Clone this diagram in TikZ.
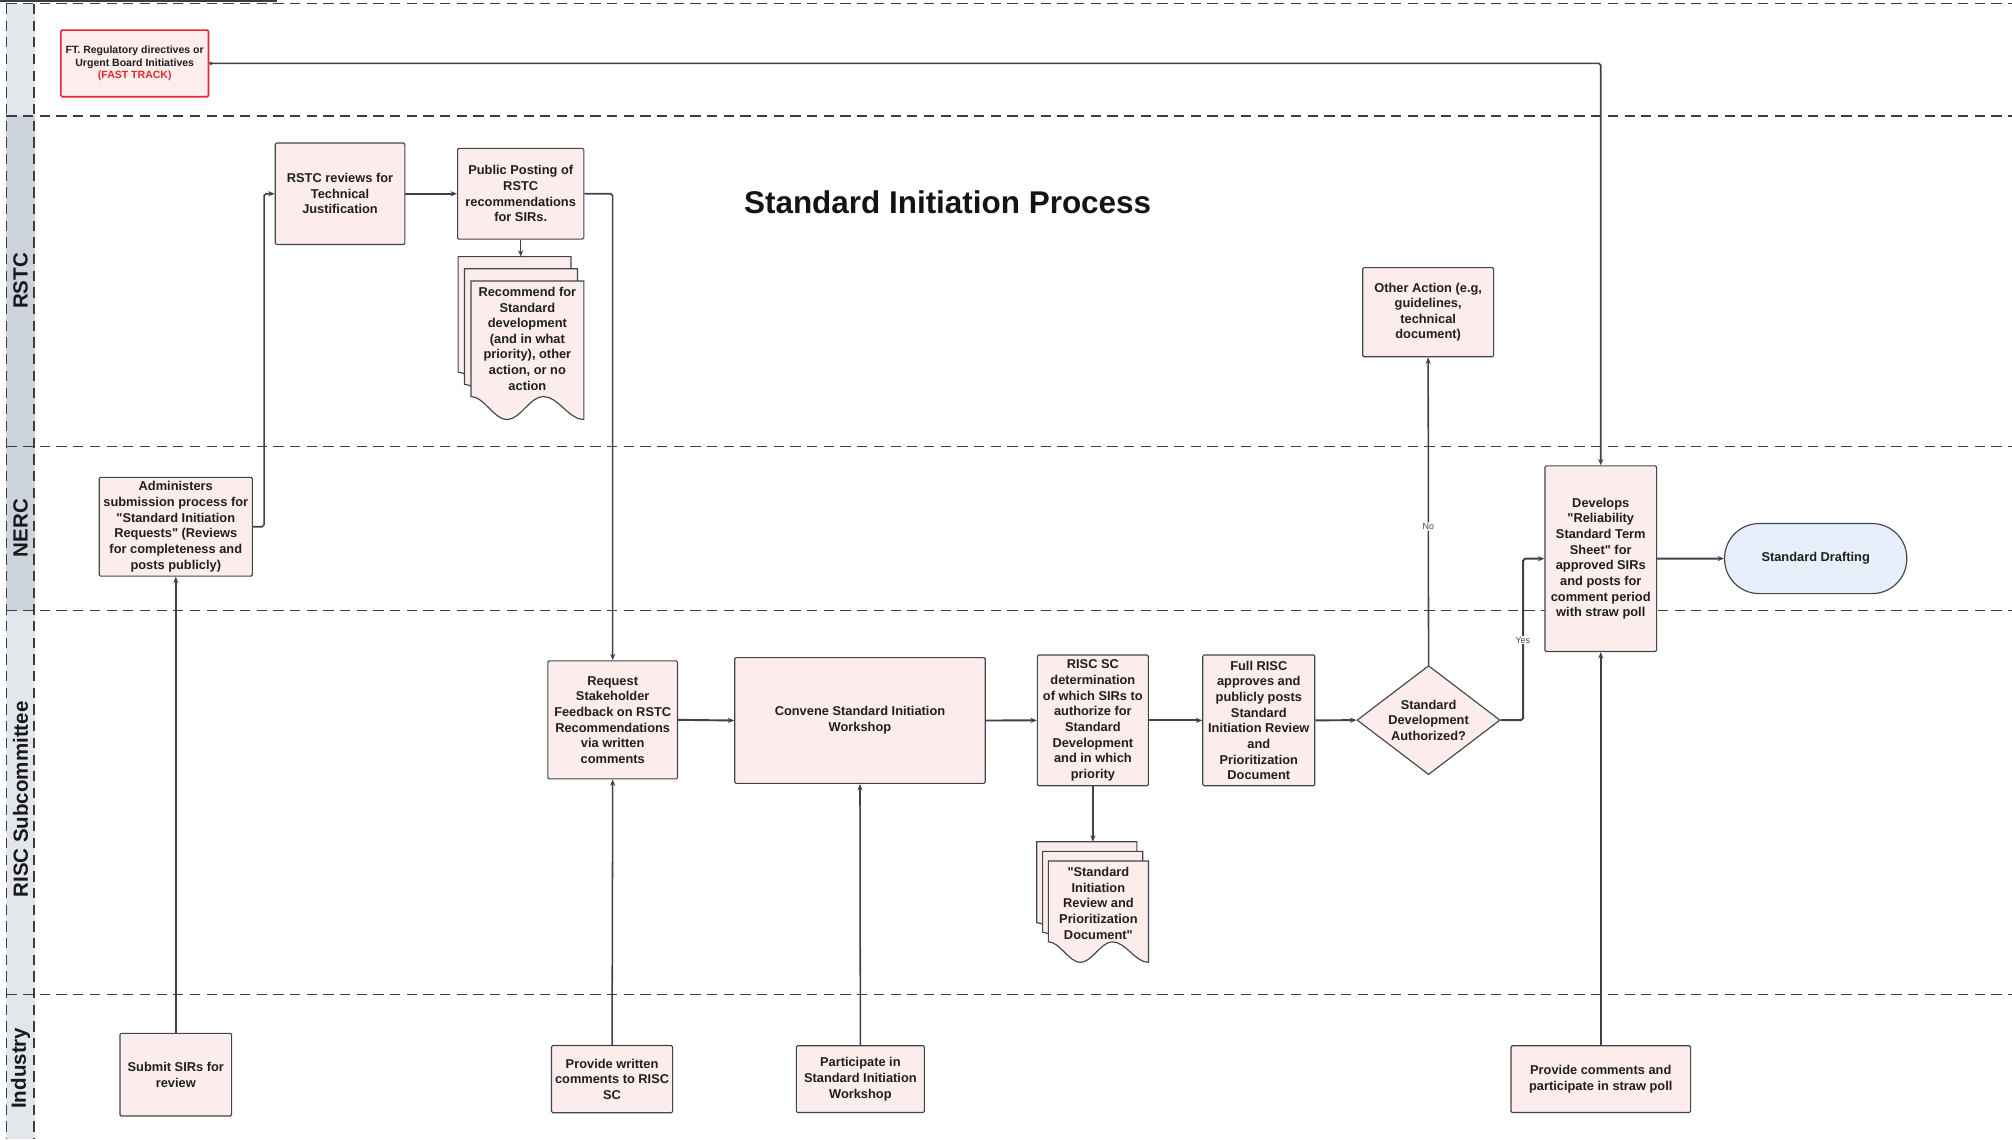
\documentclass[tikz,border=0pt]{standalone}
\usepackage{fontspec}
\setmainfont{Liberation Sans}[Ligatures=TeXOff]
\usetikzlibrary{arrows.meta,shapes.geometric}
\definecolor{boxfill}{HTML}{FCEDEC}
\definecolor{boxline}{HTML}{42464C}
\definecolor{connc}{HTML}{3E434A}
\definecolor{ftred}{HTML}{E5282D}
\definecolor{ftfill}{HTML}{FDEDED}
\definecolor{draftfill}{HTML}{E7F0FA}
\definecolor{lanelight}{HTML}{E3E6EA}
\definecolor{lanedark}{HTML}{CDD3DC}
\definecolor{sepc}{HTML}{3A3D42}
\newcommand{\dq}{\char34\relax}
\newcommand{\mypage}[5]{\draw[pagesty] (#1,#2) -- ++(#3,0) -- ++(0,#4)
  .. controls +({-0.13*#3},0) and +({0.13*#3},0) .. ++({-0.36*#3},{-#5})
  .. controls +({-0.115*#3},0) and +({0.115*#3},0) .. ++({-0.32*#3},{#5})
  .. controls +({-0.115*#3},0) and +({0.115*#3},0) .. ++({-0.32*#3},{-#5}) -- cycle;}
\begin{document}
\begin{tikzpicture}[x=1pt,y=-1pt,
  proc/.style={draw=boxline, fill=boxfill, line width=0.9pt, rounded corners=1pt, align=center, inner sep=0pt,
    font=\fontsize{10}{12.2}\selectfont\bfseries, text=black!88},
  pagesty/.style={draw=boxline, fill=boxfill, line width=0.9pt},
  doctext/.style={align=center, inner sep=0pt, font=\fontsize{10}{12.2}\selectfont\bfseries, text=black!88},
  conn/.style={draw=connc, line width=1.2pt, rounded corners=1.5pt, -{Stealth[length=5pt,width=4pt]}},
  hconn/.style={conn, line width=1.5pt},
  lanesep/.style={draw=sepc, line width=1pt, dash pattern=on 8pt off 5pt},
  lanelbl/.style={rotate=90, font=\fontsize{16}{18}\selectfont\bfseries, text=black!90, inner sep=0pt},
  edgelbl/.style={font=\fontsize{7}{8}\selectfont, text=black!72, fill=white, inner sep=0.8pt}
]
\useasboundingbox (0,0) rectangle (1568,888);
% lane header column
\fill[lanelight] (5,3) rectangle (27,90.4);
\fill[lanedark] (5,90.4) rectangle (27,475.8);
\fill[lanelight] (5,475.8) rectangle (27,888);
% top solid line
\draw[sepc, line width=1.2pt] (0,0.6) -- (215.6,0.6);
% lane separators
\draw[lanesep] (5,3) -- (1568,3);
\draw[lanesep] (5,90.4) -- (1568,90.4);
\draw[lanesep] (5,348) -- (1568,348);
\draw[lanesep] (5,475.8) -- (1568,475.8);
\draw[lanesep] (5,774.8) -- (1568,774.8);
\draw[lanesep, line width=1.4pt] (5,3) -- (5,888);
\draw[lanesep, line width=1.4pt] (26.5,3) -- (26.5,888);
% lane labels
\node[lanelbl] (lrstc) at (16,219) {RSTC};
\node[lanelbl] (lnerc) at (16,411.5) {NERC};
\node[lanelbl] (lrisc) at (16,623) {RISC Subcommittee};
\node[lanelbl] (lind) at (16,832.5) {Industry};
% title
\node[font=\fontsize{24.5}{28}\selectfont\bfseries, text=black!92] (title) at (738.5,158) {Standard Initiation Process};
% fast track
\node[proc, draw=ftred, fill=ftfill, line width=1.2pt, minimum width=115pt, minimum height=52pt,
  font=\fontsize{8.2}{10}\selectfont\bfseries] (ft) at (105,49.4)
  {FT. Regulatory directives or\\Urgent Board Initiatives\\\textcolor{ftred}{(FAST TRACK)}};
% RSTC lane
\node[proc, minimum width=101pt, minimum height=79pt] (rstcrev) at (265,151) {RSTC reviews for\\Technical\\Justification};
\node[proc, minimum width=98.4pt, minimum height=70.7pt] (post) at (405.8,151) {Public Posting of\\RSTC\\recommendations\\for SIRs.};
\mypage{357}{200}{88}{108}{18}
\mypage{362}{209.5}{88}{108}{18}
\mypage{367}{219}{88}{108}{18}
\coordinate (doc1top) at (405.8,200);
\node[doctext] (doc1) at (411,264) {Recommend for\\Standard\\development\\(and in what\\priority), other\\action, or no\\action};
\node[proc, minimum width=102pt, minimum height=69.5pt] (other) at (1113,243.3) {Other Action (e.g,\\guidelines,\\technical\\document)};
% NERC lane
\node[proc, minimum width=119.3pt, minimum height=77pt] (admin) at (137,410.5) {Administers\\submission process for\\\dq Standard Initiation\\Requests\dq{} (Reviews\\for completeness and\\posts publicly)};
\node[proc, minimum width=87pt, minimum height=144.7pt] (dev) at (1247.5,435.4) {Develops\\\dq Reliability\\Standard Term\\Sheet\dq{} for\\approved SIRs\\and posts for\\comment period\\with straw poll};
\node[proc, fill=draftfill, rounded corners=27pt, minimum width=142pt, minimum height=54.6pt] (draft) at (1415,435.3) {Standard Drafting};
% RISC lane
\node[proc, minimum width=101pt, minimum height=92pt] (req) at (477.5,561) {Request\\Stakeholder\\Feedback on RSTC\\Recommendations\\via written\\comments};
\node[proc, minimum width=195.2pt, minimum height=98pt] (conv) at (670.2,561.5) {Convene Standard Initiation\\Workshop};
\node[proc, minimum width=86.5pt, minimum height=101.8pt] (riscsc) at (851.7,561.4) {RISC SC\\determination\\of which SIRs to\\authorize for\\Standard\\Development\\and in which\\priority};
\node[proc, minimum width=87.3pt, minimum height=101.8pt] (full) at (981,561.4) {Full RISC\\approves and\\publicly posts\\Standard\\Initiation Review\\and\\Prioritization\\Document};
\node[proc, shape=diamond, aspect=1.31, rounded corners=0pt, minimum width=111.5pt, minimum height=85pt] (dia) at (1113.3,561.2) {Standard\\Development\\Authorized?};
\mypage{808}{656}{78}{79}{16}
\mypage{812.5}{663.5}{78}{79}{16}
\mypage{817}{671}{78}{79}{16}
\coordinate (doc2top) at (851.7,656);
\node[doctext] (doc2) at (856,704) {\dq Standard\\Initiation\\Review and\\Prioritization\\Document\dq};
% Industry lane
\node[proc, minimum width=87pt, minimum height=64.4pt] (submit) at (137,837.5) {Submit SIRs for\\review};
\node[proc, minimum width=94.3pt, minimum height=52.4pt] (provw) at (477,841) {Provide written\\comments to RISC\\SC};
\node[proc, minimum width=99.8pt, minimum height=52pt] (part) at (670.5,841) {Participate in\\Standard Initiation\\Workshop};
\node[proc, minimum width=140pt, minimum height=52pt] (provc) at (1247.5,841) {Provide comments and\\participate in straw poll};
% connectors
\draw[conn, {Circle[length=2.4pt]}-{Stealth[length=5pt,width=4pt]}] (ft.east) -| (dev.north);
\draw[conn] (admin.east) -- ++(8.7,0) |- (rstcrev.west);
\draw[hconn] (rstcrev.east) -- (post.west);
\draw[conn] (post.east) -| (req.north);
\draw[conn] (post.south) -- (doc1top);
\draw[conn] (submit.north) -- (admin.south);
\draw[conn] (provw.north) -- (req.south);
\draw[hconn] (req.east) -- (conv.west);
\draw[conn] (part.north) -- (conv.south);
\draw[hconn] (conv.east) -- (riscsc.west);
\draw[conn] (riscsc.south) -- (doc2top);
\draw[hconn] (riscsc.east) -- (full.west);
\draw[hconn] (full.east) -- (dia.west);
\draw[conn] (dia.north) -- node[edgelbl, pos=0.45] (nolbl) {No} (other.south);
\draw[hconn] (dia.east) -- ++(17.5,0) |- (dev.west);
\node[edgelbl] (yeslbl) at (1186.8,498.8) {Yes};
\draw[hconn] (dev.east) -- (draft.west);
\draw[conn] (provc.north) -- (dev.south);
\end{tikzpicture}
\end{document}
